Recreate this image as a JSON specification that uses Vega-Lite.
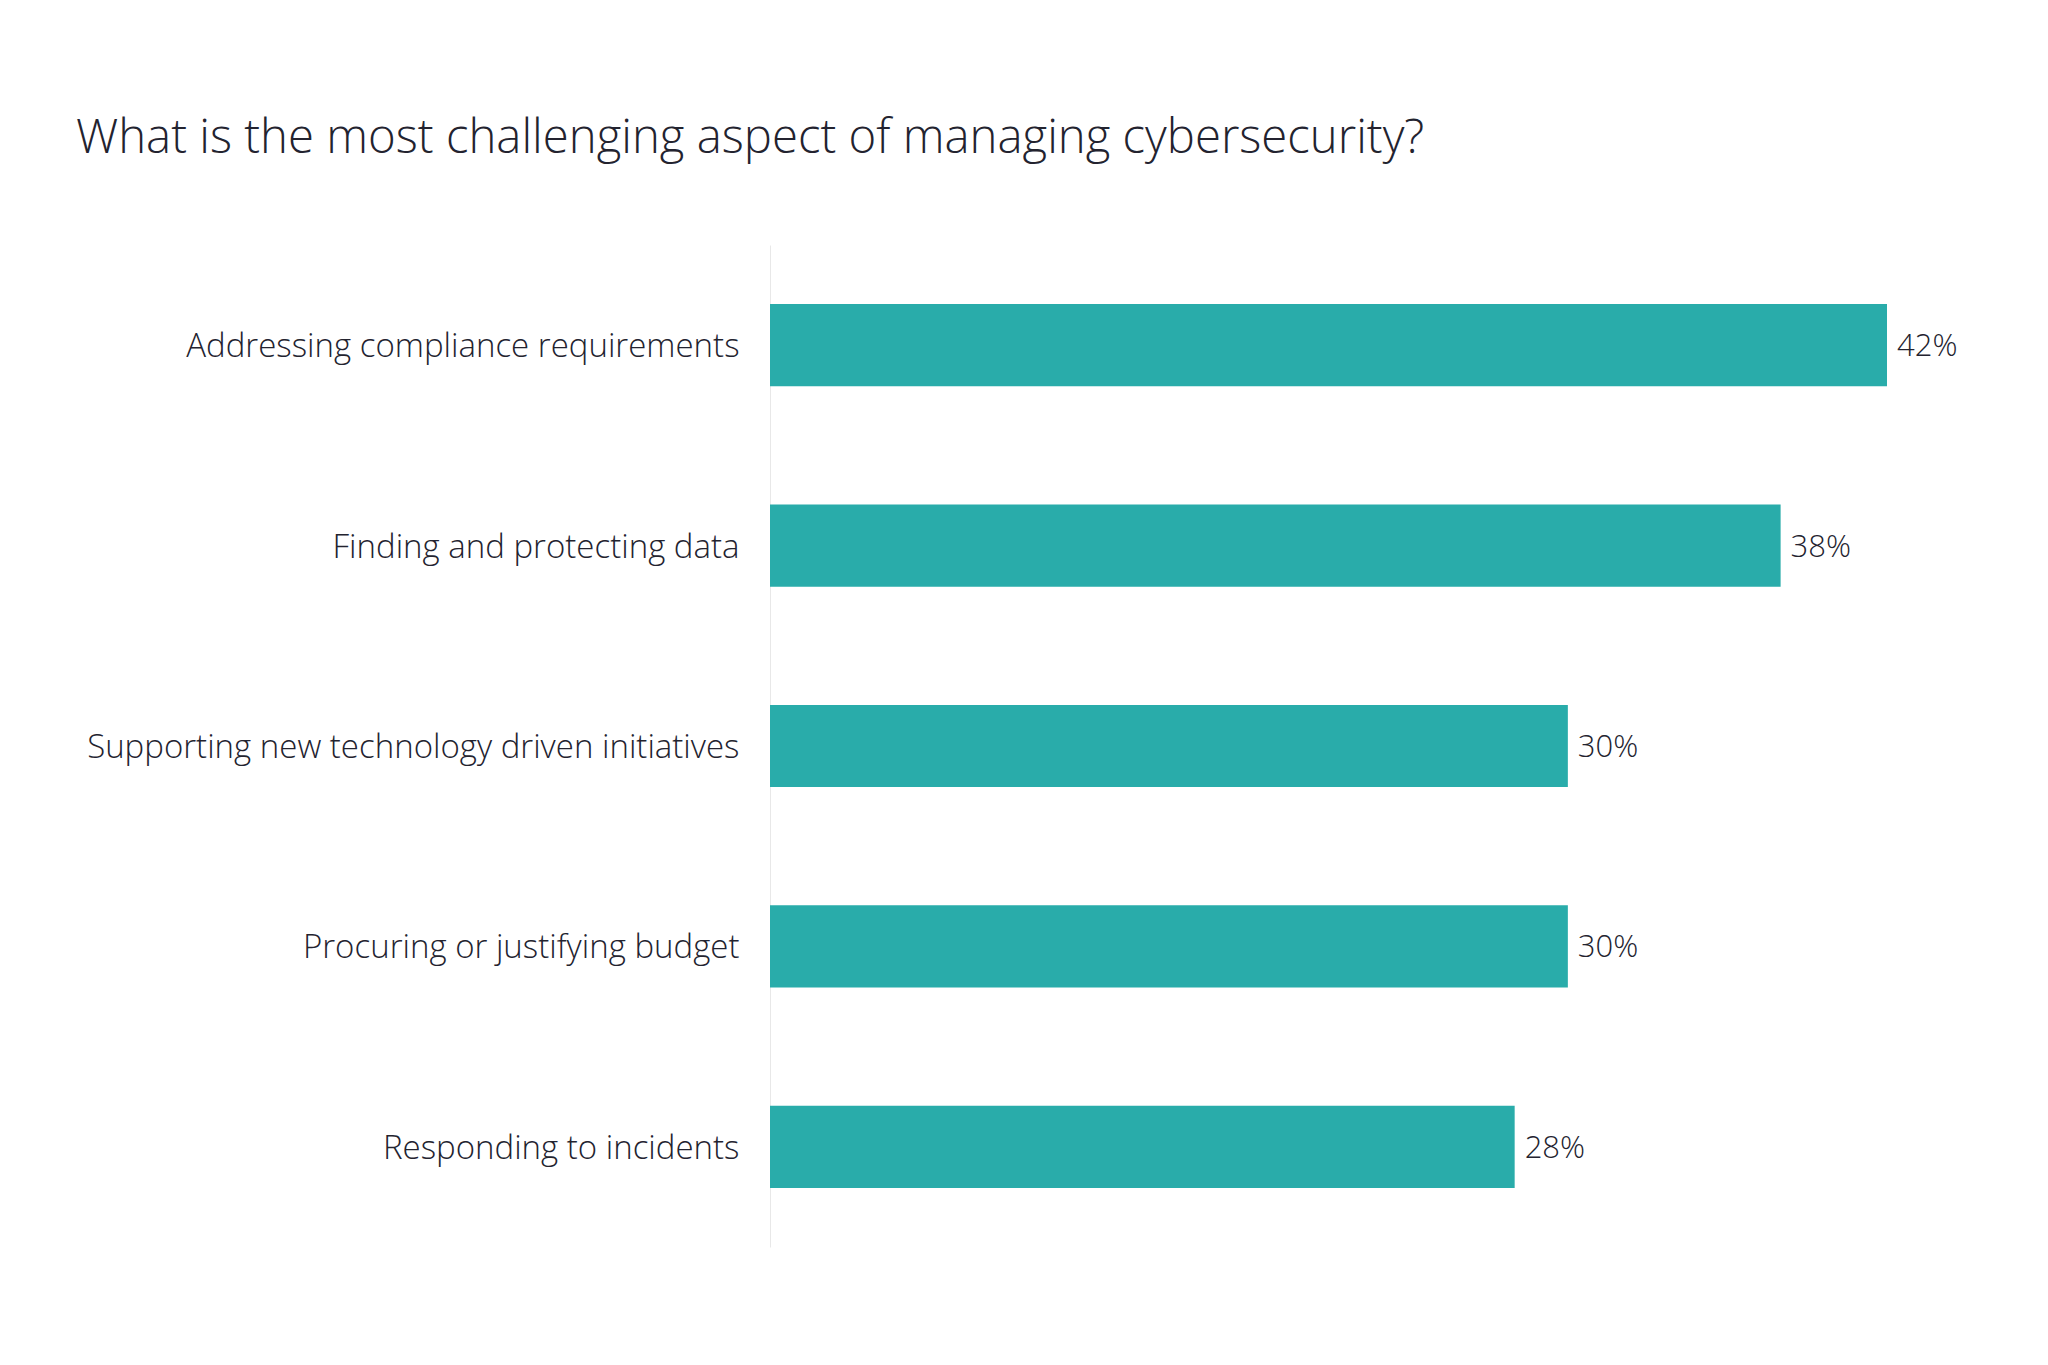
{
  "$schema": "https://vega.github.io/schema/vega-lite/v6.json",
  "autosize": "none",
  "padding": {"left": 770, "top": 245, "right": 161, "bottom": 118},
  "width": 1117,
  "height": 1002,
  "background": "white",
  "title": {
    "text": "What is the most challenging aspect of managing cybersecurity?",
    "anchor": "start",
    "orient": "top",
    "frame": "group",
    "baseline": "alphabetic",
    "offset": 45,
    "dx": -694,
    "font": "Open Sans",
    "fontSize": 47.3,
    "fontWeight": 300,
    "color": "#23232f"
  },
  "data": {
    "values": [
      {"challenge": "Addressing compliance requirements", "share": 0.42},
      {"challenge": "Finding and protecting data", "share": 0.38},
      {"challenge": "Supporting new technology driven initiatives", "share": 0.30},
      {"challenge": "Procuring or justifying budget", "share": 0.30},
      {"challenge": "Responding to incidents", "share": 0.28}
    ]
  },
  "config": {
    "view": {"stroke": null},
    "font": "Open Sans"
  },
  "encoding": {
    "y": {
      "field": "challenge",
      "type": "nominal",
      "sort": null,
      "scale": {"paddingInner": 0.59, "paddingOuter": 0.295},
      "axis": {
        "title": null,
        "ticks": false,
        "domain": true,
        "domainColor": "#e8e8e8",
        "domainWidth": 1,
        "labelFont": "Open Sans",
        "labelFontSize": 33,
        "labelFontWeight": 300,
        "labelColor": "#23232f",
        "labelPadding": 31,
        "labelOffset": 2,
        "labelLimit": 0,
        "grid": false
      }
    },
    "x": {
      "field": "share",
      "type": "quantitative",
      "scale": {"domain": [0, 0.42], "nice": false, "zero": true},
      "axis": null
    }
  },
  "layer": [
    {"mark": {"type": "bar", "color": "#29ACAA"}},
    {
      "mark": {"type": "text", "align": "left", "baseline": "middle", "dx": 10, "dy": 2, "font": "Open Sans", "fontSize": 31, "fontWeight": 300, "color": "#23232f"},
      "encoding": {"text": {"field": "share", "type": "quantitative", "format": ".0%"}}
    }
  ]
}
